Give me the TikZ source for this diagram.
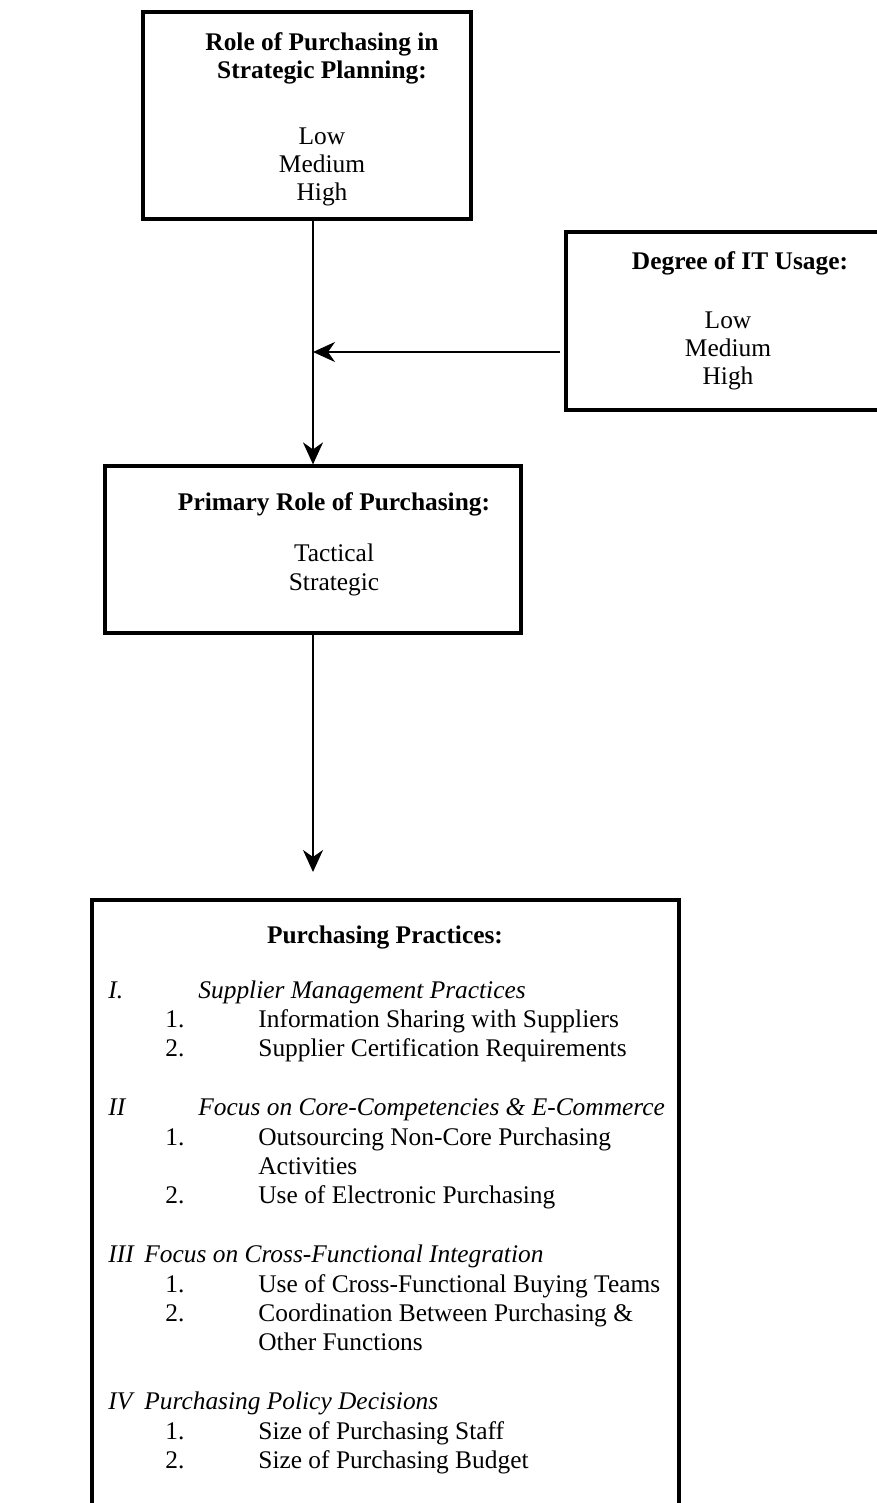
\documentclass[tikz,border=0pt]{standalone}
\usepackage{fontspec}
\setmainfont{Liberation Serif}
\usetikzlibrary{arrows.meta,fit}
\begin{document}
\begin{tikzpicture}[x=0.5pt,y=-0.5pt,
  box/.style={draw,line width=1.6pt,inner sep=0pt},
  conn/.style={line width=1pt,-{Stealth[length=11pt,width=10pt,inset=3.5pt]}},
  txt/.style={inner sep=0pt,anchor=base,font=\fontsize{12.7}{14}\selectfont},
  hd/.style={txt,font=\fontsize{12.7}{14}\selectfont\bfseries},
  lst/.style={inner sep=0pt,anchor=base west,font=\fontsize{12.7}{14}\selectfont}]
\useasboundingbox (0,0) rectangle (877,1503);
\clip (0,0) rectangle (877,1503);

% boxes
\node[box,fit={(143,12) (471,219)}] (plan) {};
\node[box,fit={(566,232) (900,410)}] (it) {};
\node[box,fit={(105,466) (521,633)}] (role) {};
\node[box,fit={(92,900) (679,1540)}] (prac) {};

% box texts
\node[hd] (plan1) at (322,51) {Role of Purchasing in};
\node[hd] (plan2) at (322,79) {Strategic Planning:};
\node[txt] (plan3) at (322,145) {Low};
\node[txt] (plan4) at (322,173) {Medium};
\node[txt] (plan5) at (322,201) {High};

\node[hd] (it1) at (740,270) {Degree of IT Usage:};
\node[txt] (it2) at (728,328) {Low};
\node[txt] (it3) at (728,356) {Medium};
\node[txt] (it4) at (728,384) {High};

\node[hd] (role1) at (334,510) {Primary Role of Purchasing:};
\node[txt] (role2) at (334,561) {Tactical};
\node[txt] (role3) at (334,590) {Strategic};

\node[hd] (prac0) at (385,943) {Purchasing Practices:};

% list of practices: x of numeral, x of text, line number, numeral, text
\foreach \n/\xa/\xb/\k/\num/\t in {
  1/108/198/0/\textit{I.}/\textit{Supplier Management Practices},
  2/165/258/1/1./Information Sharing with Suppliers,
  3/165/258/2/2./Supplier Certification Requirements,
  4/108/198/4/\textit{II}/\textit{Focus on Core-Competencies \& E-Commerce},
  5/165/258/5/1./Outsourcing Non-Core Purchasing,
  6/165/258/6/{}/Activities,
  7/165/258/7/2./Use of Electronic Purchasing,
  8/108/144/9/\textit{III}/\textit{Focus on Cross-Functional Integration},
  9/165/258/10/1./Use of Cross-Functional Buying Teams,
  10/165/258/11/2./Coordination Between Purchasing \&,
  11/165/258/12/{}/Other Functions,
  12/108/144/14/\textit{IV}/\textit{Purchasing Policy Decisions},
  13/165/258/15/1./Size of Purchasing Staff,
  14/165/258/16/2./Size of Purchasing Budget}
{
  \pgfmathsetmacro{\yb}{998+29.4*\k}
  \node[lst] (num\n) at (\xa,\yb) {\num};
  \node[lst] (item\n) at (\xb,\yb) {\t};
}

% connectors
\coordinate (join) at (role.north |- 0,352);
\coordinate (drop) at (role.south |- 0,872);
\draw[conn] (role.north |- plan.south) -- (role.north);
\draw[conn] ([xshift=-2pt]it.west |- join) -- (join);
\draw[conn] (role.south) -- (drop);
\end{tikzpicture}
\end{document}
